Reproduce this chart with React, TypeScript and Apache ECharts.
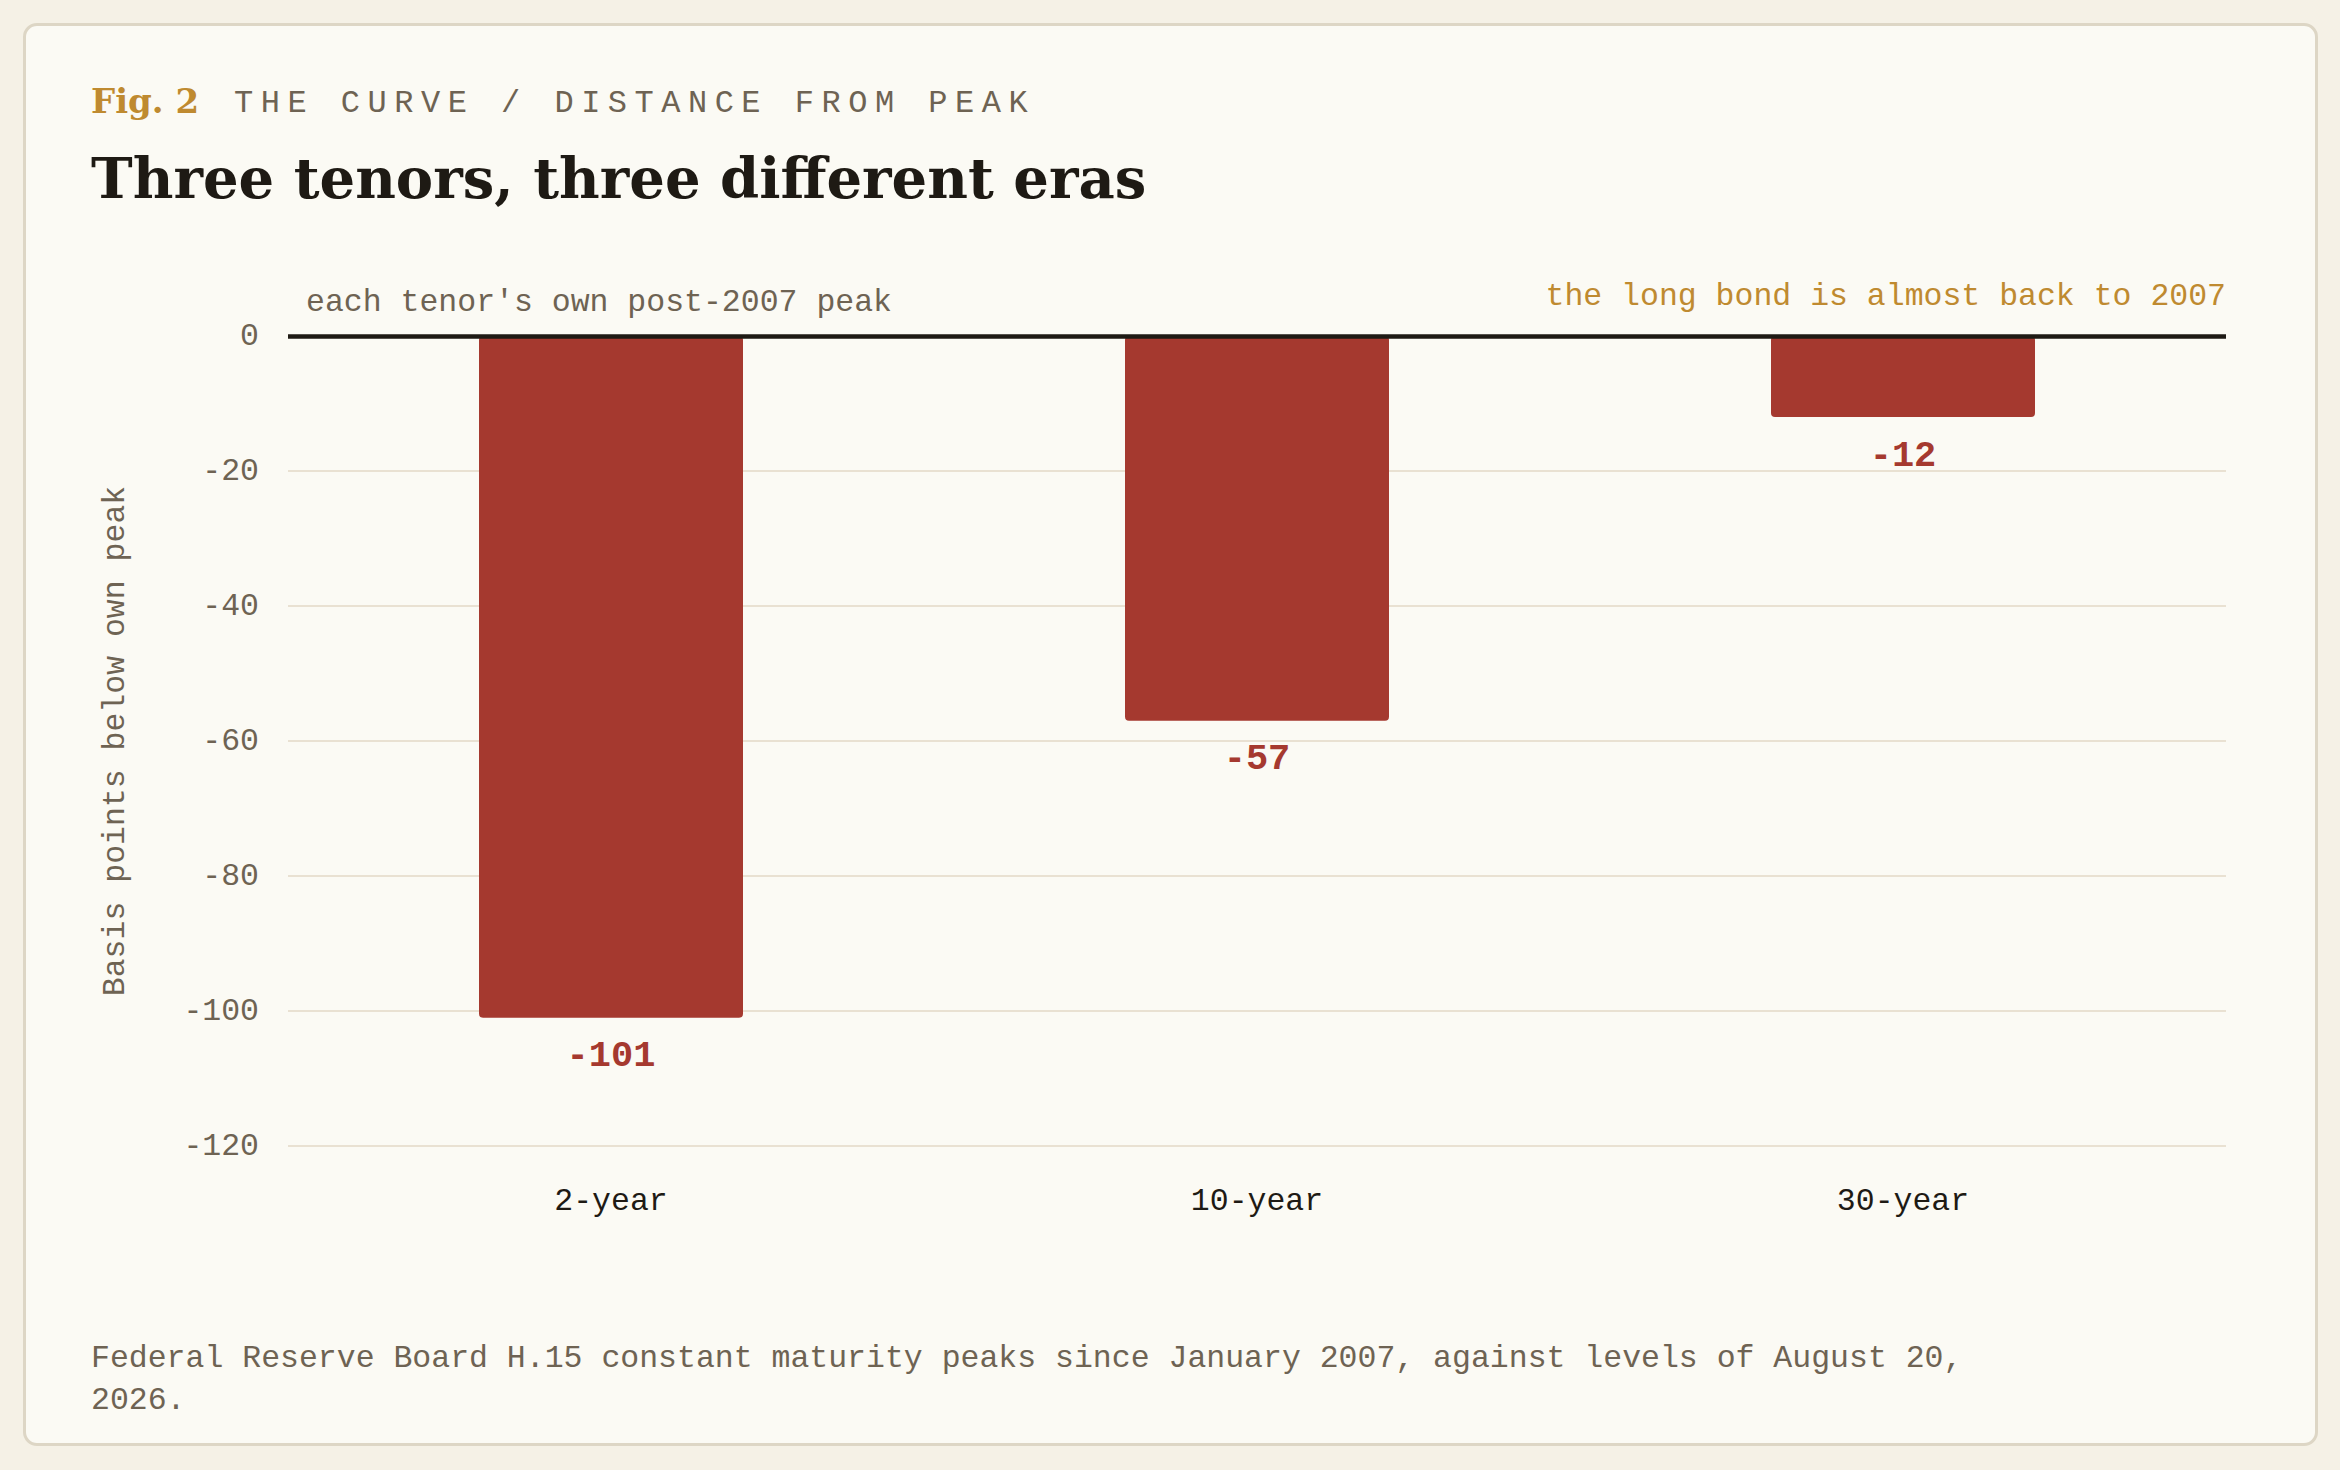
import React, { useEffect, useRef } from "react";
import * as echarts from "echarts";

// ---- data ----
const categories: string[] = ["2-year", "10-year", "30-year"];
const distanceFromPeak: number[] = [-101, -57, -12];
const yMin = -120;
const yMax = 0;
const yInterval = 20;

const eyebrowFig = "Fig. 2";
const eyebrowText = "THE CURVE / DISTANCE FROM PEAK";
const titleText = "Three tenors, three different eras";
const yAxisName = "Basis points below own peak";
const leftNote = "each tenor's own post-2007 peak";
const rightNote = "the long bond is almost back to 2007";
const footerText =
  "Federal Reserve Board H.15 constant maturity peaks since January 2007, against levels of August 20, 2026.";

// ---- style ----
const MONO = '"Liberation Mono", "DejaVu Sans Mono", monospace';
const SERIF = '"DejaVu Serif", "Liberation Serif", serif';
const PAGE_BG = "#f5f1e6";
const CARD_BG = "#fbfaf4";
const CARD_BORDER = "#ddd6c5";
const INK = "#1e1a14";
const GRAY = "#6e6353";
const GOLD = "#bf8a30";
const RED = "#a5392f";
const GRID = "#e9e1d2";

export default function App() {
  const ref = useRef<HTMLDivElement>(null);

  useEffect(() => {
    if (!ref.current) return;
    const chart = echarts.init(ref.current, undefined, { renderer: "svg" });
    chart.setOption({
      animation: false,
      backgroundColor: "transparent",
      grid: { left: 288, right: 114, top: 336, bottom: 324, containLabel: false },
      xAxis: {
        type: "category",
        data: categories,
        position: "bottom",
        axisLine: { show: false, onZero: false },
        axisTick: { show: false },
        splitLine: { show: false },
        axisLabel: {
          color: INK,
          fontFamily: MONO,
          fontSize: 31.5,
          margin: 39,
        },
      },
      yAxis: {
        type: "value",
        min: yMin,
        max: yMax,
        interval: yInterval,
        axisLine: { show: false },
        axisTick: { show: false },
        splitLine: { show: true, lineStyle: { color: GRID, width: 2 } },
        axisLabel: {
          color: GRAY,
          fontFamily: MONO,
          fontSize: 31.5,
          margin: 29,
        },
        name: yAxisName,
        nameLocation: "middle",
        nameGap: 157,
        nameTextStyle: { color: GRAY, fontFamily: MONO, fontSize: 31.5 },
      },
      series: [
        {
          type: "bar",
          data: distanceFromPeak,
          barWidth: 264,
          itemStyle: { color: RED, borderRadius: 4 },
          label: {
            show: true,
            position: "bottom",
            distance: 20,
            color: RED,
            fontFamily: MONO,
            fontWeight: "bold",
            fontSize: 37,
          },
          markLine: {
            silent: true,
            symbol: ["none", "none"],
            label: { show: false },
            lineStyle: { color: INK, width: 4.5, type: "solid" },
            data: [{ yAxis: 0 }],
          },
        },
      ],
      graphic: [
        {
          type: "text",
          left: 306,
          top: 286,
          style: {
            text: leftNote,
            fill: GRAY,
            font: `31.5px ${MONO}`,
          },
        },
        {
          type: "text",
          right: 114,
          top: 280,
          style: {
            text: rightNote,
            fill: GOLD,
            font: `31.5px ${MONO}`,
            align: "right",
          },
        },
      ],
    });
    return () => chart.dispose();
  }, []);

  return (
    <div
      style={{
        position: "fixed",
        left: 0,
        top: 0,
        width: 2340,
        height: 1470,
        background: PAGE_BG,
        overflow: "hidden",
      }}
    >
      <div
        style={{
          position: "absolute",
          left: 23,
          top: 23,
          width: 2295 - 6,
          height: 1423 - 6,
          background: CARD_BG,
          border: `3px solid ${CARD_BORDER}`,
          borderRadius: 14,
        }}
      />
      <div
        style={{
          position: "absolute",
          left: 91,
          top: 84,
          fontFamily: SERIF,
          fontWeight: 700,
          fontSize: 34,
          lineHeight: "34px",
          color: GOLD,
          whiteSpace: "nowrap",
        }}
      >
        {eyebrowFig}
      </div>
      <div
        style={{
          position: "absolute",
          left: 234,
          top: 88,
          fontFamily: MONO,
          fontSize: 32,
          lineHeight: "32px",
          letterSpacing: "7.5px",
          color: GRAY,
          whiteSpace: "nowrap",
        }}
      >
        {eyebrowText}
      </div>
      <div
        style={{
          position: "absolute",
          left: 91,
          top: 150,
          fontFamily: SERIF,
          fontWeight: 700,
          fontSize: 56,
          lineHeight: "56px",
          color: INK,
          whiteSpace: "nowrap",
        }}
      >
        {titleText}
      </div>
      <div
        ref={ref}
        style={{ position: "absolute", left: 0, top: 0, width: 2340, height: 1470 }}
      />
      <div
        style={{
          position: "absolute",
          left: 91,
          top: 1338,
          width: 1930,
          fontFamily: MONO,
          fontSize: 31.5,
          lineHeight: "42px",
          color: GRAY,
        }}
      >
        {footerText}
      </div>
    </div>
  );
}
